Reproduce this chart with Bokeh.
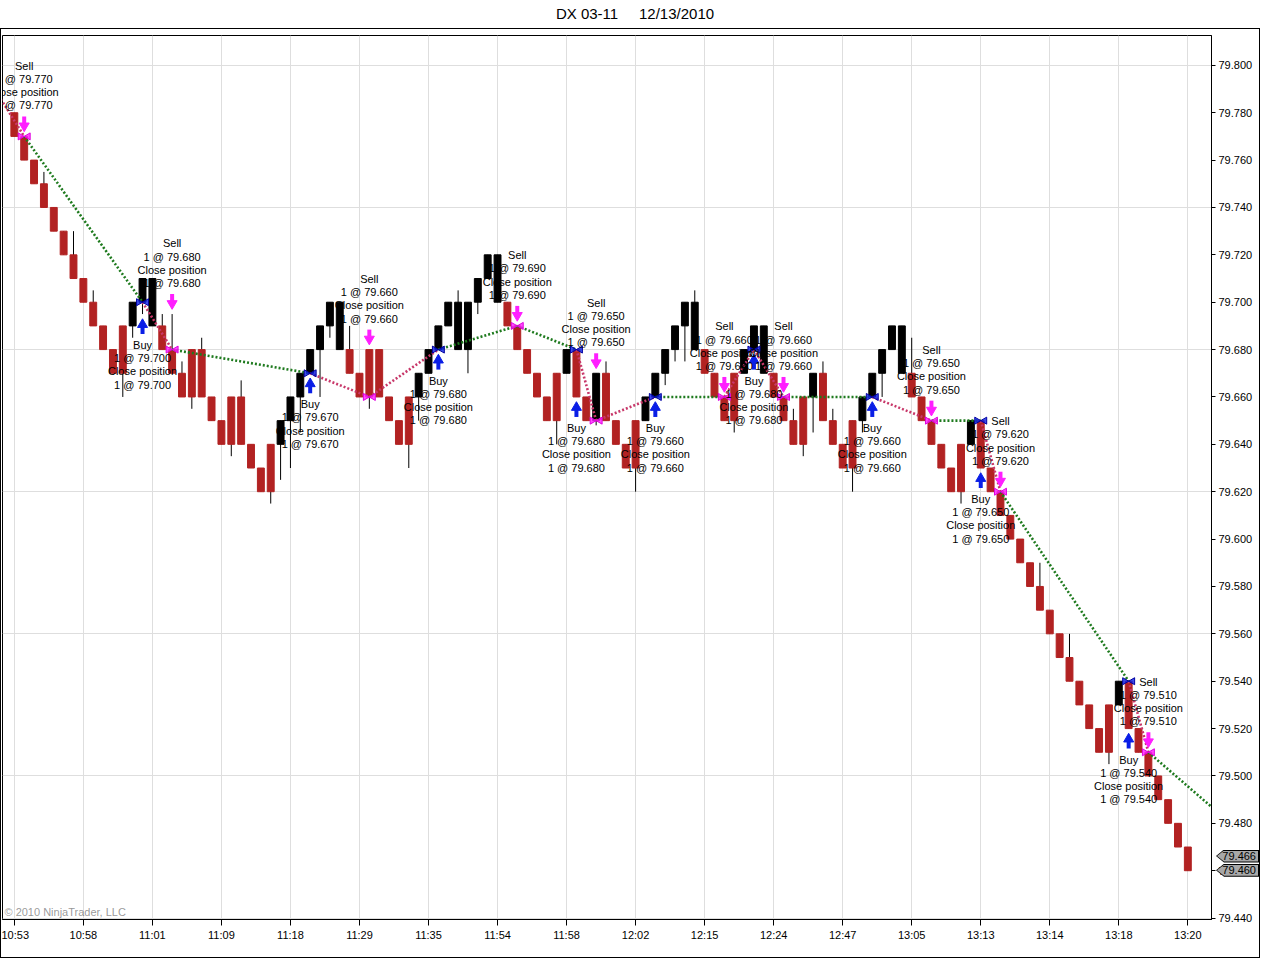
import math
from bokeh.plotting import figure
from bokeh.models import Range1d, FixedTicker, Label, Div, ColumnDataSource, NumeralTickFormatter
from bokeh.layouts import column
from bokeh.embed import file_html
from bokeh.resources import INLINE
from bokeh.core.properties import value

FONT = "Liberation Sans"

chart_title = "DX 03-11&nbsp;&nbsp;&nbsp;&nbsp;&nbsp;12/13/2010"
copyright_text = "\u00a9 2010 NinjaTrader, LLC"

# ---------------- data ----------------
time_labels = ["10:53", "10:58", "11:01", "11:09", "11:18", "11:29", "11:35", "11:54", "11:58",
               "12:02", "12:15", "12:24", "12:47", "13:05", "13:13", "13:14", "13:18", "13:20"]
bars_per_label = 7

bar_open = [79.780, 79.770, 79.760, 79.750, 79.740, 79.730, 79.720, 79.710, 79.700, 79.690,
            79.680, 79.690, 79.690, 79.700, 79.690, 79.690, 79.680, 79.670, 79.680, 79.680,
            79.660, 79.650, 79.660, 79.660, 79.640, 79.630, 79.640, 79.640, 79.650, 79.660,
            79.670, 79.680, 79.690, 79.680, 79.680, 79.670, 79.680, 79.680, 79.660, 79.650,
            79.660, 79.660, 79.670, 79.680, 79.690, 79.680, 79.680, 79.700, 79.710, 79.700,
            79.700, 79.690, 79.680, 79.670, 79.660, 79.670, 79.670, 79.680, 79.660, 79.650,
            79.670, 79.650, 79.640, 79.650, 79.650, 79.660, 79.670, 79.680, 79.690, 79.680,
            79.680, 79.670, 79.660, 79.670, 79.670, 79.680, 79.670, 79.670, 79.660, 79.650,
            79.660, 79.660, 79.670, 79.650, 79.640, 79.650, 79.650, 79.660, 79.670, 79.680,
            79.670, 79.670, 79.660, 79.650, 79.640, 79.630, 79.640, 79.640, 79.650, 79.630,
            79.620, 79.610, 79.600, 79.590, 79.580, 79.570, 79.560, 79.550, 79.540, 79.530,
            79.520, 79.530, 79.530, 79.540, 79.520, 79.510, 79.500, 79.490, 79.480, 79.470]

bar_close = [79.770, 79.760, 79.750, 79.740, 79.730, 79.720, 79.710, 79.700, 79.690, 79.680,
             79.670, 79.670, 79.700, 79.710, 79.710, 79.680, 79.670, 79.660, 79.660, 79.660,
             79.650, 79.640, 79.640, 79.640, 79.630, 79.620, 79.620, 79.650, 79.660, 79.670,
             79.680, 79.690, 79.700, 79.700, 79.670, 79.660, 79.660, 79.660, 79.650, 79.640,
             79.640, 79.670, 79.680, 79.690, 79.700, 79.700, 79.700, 79.710, 79.720, 79.720,
             79.690, 79.680, 79.670, 79.660, 79.650, 79.650, 79.680, 79.660, 79.650, 79.670,
             79.650, 79.640, 79.630, 79.630, 79.660, 79.670, 79.680, 79.690, 79.700, 79.700,
             79.670, 79.660, 79.650, 79.650, 79.680, 79.690, 79.690, 79.660, 79.650, 79.640,
             79.640, 79.670, 79.650, 79.640, 79.630, 79.630, 79.660, 79.670, 79.680, 79.690,
             79.690, 79.660, 79.650, 79.640, 79.630, 79.620, 79.620, 79.650, 79.630, 79.620,
             79.610, 79.600, 79.590, 79.580, 79.570, 79.560, 79.550, 79.540, 79.530, 79.520,
             79.510, 79.510, 79.540, 79.520, 79.510, 79.500, 79.490, 79.480, 79.470, 79.460]

bar_high = [79.780, 79.770, 79.760, 79.755, 79.740, 79.730, 79.730, 79.710, 79.705, 79.690,
            79.680, 79.690, 79.700, 79.710, 79.710, 79.695, 79.695, 79.675, 79.680, 79.685,
            79.660, 79.650, 79.660, 79.667, 79.640, 79.630, 79.640, 79.650, 79.660, 79.670,
            79.680, 79.690, 79.700, 79.700, 79.690, 79.670, 79.680, 79.680, 79.660, 79.650,
            79.660, 79.670, 79.680, 79.690, 79.700, 79.705, 79.700, 79.710, 79.720, 79.720,
            79.700, 79.690, 79.680, 79.670, 79.660, 79.670, 79.680, 79.680, 79.660, 79.670,
            79.675, 79.650, 79.640, 79.650, 79.660, 79.670, 79.680, 79.690, 79.700, 79.705,
            79.680, 79.670, 79.660, 79.670, 79.680, 79.690, 79.690, 79.670, 79.660, 79.655,
            79.660, 79.670, 79.675, 79.655, 79.640, 79.650, 79.660, 79.670, 79.680, 79.690,
            79.690, 79.685, 79.660, 79.650, 79.640, 79.630, 79.640, 79.650, 79.650, 79.630,
            79.620, 79.610, 79.600, 79.590, 79.590, 79.570, 79.560, 79.560, 79.540, 79.530,
            79.520, 79.530, 79.540, 79.540, 79.520, 79.510, 79.500, 79.490, 79.480, 79.470]

bar_low = [79.770, 79.760, 79.750, 79.740, 79.730, 79.720, 79.710, 79.700, 79.690, 79.680,
           79.670, 79.660, 79.685, 79.695, 79.690, 79.680, 79.670, 79.660, 79.655, 79.660,
           79.650, 79.640, 79.635, 79.640, 79.630, 79.620, 79.615, 79.625, 79.630, 79.645,
           79.670, 79.660, 79.685, 79.680, 79.670, 79.660, 79.655, 79.660, 79.650, 79.640,
           79.630, 79.650, 79.670, 79.680, 79.690, 79.680, 79.670, 79.695, 79.710, 79.700,
           79.690, 79.680, 79.670, 79.660, 79.650, 79.640, 79.670, 79.660, 79.650, 79.648,
           79.650, 79.640, 79.630, 79.620, 79.650, 79.660, 79.665, 79.675, 79.675, 79.680,
           79.670, 79.660, 79.650, 79.645, 79.670, 79.680, 79.670, 79.660, 79.650, 79.640,
           79.635, 79.645, 79.650, 79.640, 79.630, 79.620, 79.645, 79.660, 79.660, 79.680,
           79.670, 79.660, 79.650, 79.640, 79.630, 79.620, 79.615, 79.640, 79.630, 79.620,
           79.610, 79.600, 79.590, 79.580, 79.570, 79.560, 79.550, 79.540, 79.530, 79.520,
           79.510, 79.505, 79.530, 79.520, 79.510, 79.500, 79.490, 79.480, 79.470, 79.460]

# strategy executions (bar index, side, fill price)
signal_bar = [1, 13, 16, 30, 36, 43, 51, 57, 59, 65, 72, 75, 78, 87, 93, 98, 100, 113, 115]
signal_side = ["Sell", "Buy", "Sell", "Buy", "Sell", "Buy", "Sell", "Buy", "Sell", "Buy",
               "Sell", "Buy", "Sell", "Buy", "Sell", "Buy", "Sell", "Buy", "Sell"]
signal_price = [79.770, 79.700, 79.680, 79.670, 79.660, 79.680, 79.690, 79.680, 79.650, 79.660,
                79.660, 79.680, 79.660, 79.660, 79.650, 79.650, 79.620, 79.540, 79.510]

# position opened before the visible window, and the still-open position's trail
prior_entry_bar, prior_entry_side, prior_entry_price = -2, "Buy", 79.790
open_trail_bar, open_trail_price = 125, 79.474

last_prices = [79.466, 79.460]

price_ticks = [79.440, 79.460, 79.480, 79.500, 79.520, 79.540, 79.560, 79.580, 79.600, 79.620,
               79.640, 79.660, 79.680, 79.700, 79.720, 79.740, 79.760, 79.780, 79.800]
grid_prices = [79.440, 79.500, 79.560, 79.620, 79.680, 79.740, 79.800]

# ---------------- styles ----------------
UP_COLOR = "black"
DOWN_COLOR = "#B22222"
WIN_COLOR = "#1E7A1E"
LOSS_COLOR = "#C8386A"
BUY_COLOR = "#0A1EE6"
SELL_COLOR = "#FF1EFF"

W, H = 1260, 930
TITLE_H = 18
TOP, BOTTOM, LEFT, RIGHT = 6, 40, 1, 50
FRAME_H = H - TOP - BOTTOM
FRAME_W = W - LEFT - RIGHT
Y0, Y1 = 79.4394, 79.8126
X0, X1 = -1.2, 121.4
ppx = (Y1 - Y0) / FRAME_H  # price per pixel

p = figure(width=W, height=H, output_backend="svg", toolbar_location=None,
           x_range=Range1d(X0, X1), y_range=Range1d(Y0, Y1),
           y_axis_location="right", min_border_left=LEFT, min_border_top=TOP,
           min_border_bottom=BOTTOM, min_border_right=RIGHT,
           styles={"border": "1px solid black"})
p.outline_line_color = "black"
p.outline_line_width = 1
p.background_fill_color = "white"
p.border_fill_color = "white"

# axes
p.xaxis.ticker = FixedTicker(ticks=[i * bars_per_label for i in range(len(time_labels))])
p.xaxis.major_label_overrides = {i * bars_per_label: t for i, t in enumerate(time_labels)}
p.yaxis.ticker = FixedTicker(ticks=price_ticks)
p.yaxis.formatter = NumeralTickFormatter(format="0.000")
for ax in (p.xaxis, p.yaxis):
    ax.axis_line_color = "black"
    ax.major_tick_line_color = "black"
    ax.major_tick_in = 0
    ax.minor_tick_out = 0
    ax.minor_tick_in = 0
    ax.major_label_text_font = FONT
    ax.major_label_text_font_size = "11px"
    ax.major_label_text_color = "black"
p.xaxis.major_tick_out = 6
p.xaxis.major_label_standoff = 3
p.yaxis.major_tick_out = 4
p.yaxis.major_label_standoff = 3

p.xgrid.grid_line_color = "#DEDEDE"
p.ygrid.grid_line_color = "#DEDEDE"
p.ygrid.ticker = FixedTicker(ticks=grid_prices)

# copyright
p.add_layout(Label(x=X0 + 0.2, y=Y0 + 2 * ppx, text=copyright_text, text_font=FONT,
                   text_font_size="11px", text_color="#303030", text_alpha=0.5,
                   text_baseline="bottom"))

# candles
n = len(bar_open)
xs = list(range(n))
src = ColumnDataSource(dict(
    x=xs,
    top=[max(o, c) for o, c in zip(bar_open, bar_close)],
    bottom=[min(o, c) for o, c in zip(bar_open, bar_close)],
    high=bar_high, low=bar_low,
    color=[UP_COLOR if c > o else DOWN_COLOR for o, c in zip(bar_open, bar_close)],
))
p.segment(x0="x", y0="low", x1="x", y1="high", source=src, line_color="black", line_width=1)
p.vbar(x="x", width=0.7, top="top", bottom="bottom", source=src,
       fill_color="color", line_color="color", line_width=1)

# trade connection lines
pts_bar = [prior_entry_bar] + signal_bar + [open_trail_bar]
pts_price = [prior_entry_price] + signal_price + [open_trail_price]
pts_side = [prior_entry_side] + signal_side
seg_x0, seg_y0, seg_x1, seg_y1, seg_c = [], [], [], [], []
for i in range(len(pts_bar) - 1):
    b0, p0, b1, p1 = pts_bar[i], pts_price[i], pts_bar[i + 1], pts_price[i + 1]
    side = pts_side[i]
    win = (p1 >= p0) if side == "Buy" else (p1 <= p0)
    seg_x0.append(b0); seg_y0.append(p0); seg_x1.append(b1); seg_y1.append(p1)
    seg_c.append(WIN_COLOR if win else LOSS_COLOR)
p.segment(x0=seg_x0, y0=seg_y0, x1=seg_x1, y1=seg_y1, line_color=seg_c,
          line_width=2.6, line_dash="2 2")

# execution bowties
for side, col, edge in (("Buy", BUY_COLOR, "#0000A0"), ("Sell", SELL_COLOR, "#E000E0")):
    bx = [b for b, s in zip(signal_bar, signal_side) if s == side]
    by = [pr for pr, s in zip(signal_price, signal_side) if s == side]
    p.scatter(x=[b - 0.4 for b in bx], y=by, marker="triangle", angle=-math.pi / 2,
              size=7, fill_color=col, line_color=edge, fill_alpha=0.8)
    p.scatter(x=[b + 0.4 for b in bx], y=by, marker="triangle", angle=math.pi / 2,
              size=7, fill_color=col, line_color=edge, fill_alpha=0.8)

# arrows and texts
buy_x, buy_low, buy_txt = [], [], []
sell_x, sell_high, sell_txt = [], [], []
for b, s, pr in zip(signal_bar, signal_side, signal_price):
    txt = f"{s}\n1 @ {pr:.3f}\nClose position\n1 @ {pr:.3f}"
    if s == "Buy":
        buy_x.append(b); buy_low.append(bar_low[b]); buy_txt.append(txt)
    else:
        sell_x.append(b); sell_high.append(bar_high[b]); sell_txt.append(txt)

p.segment(x0=buy_x, x1=buy_x, y0=[l - 13 * ppx for l in buy_low], y1=[l - 20 * ppx for l in buy_low],
          line_color=BUY_COLOR, line_width=4, line_cap="butt")
p.scatter(x=buy_x, y=[l - 10.5 * ppx for l in buy_low], marker="triangle", size=10,
          fill_color=BUY_COLOR, line_color=BUY_COLOR)
p.segment(x0=sell_x, x1=sell_x, y0=[h + 13 * ppx for h in sell_high], y1=[h + 20 * ppx for h in sell_high],
          line_color=SELL_COLOR, line_width=4, line_cap="butt")
p.scatter(x=sell_x, y=[h + 10.5 * ppx for h in sell_high], marker="inverted_triangle", size=10,
          fill_color=SELL_COLOR, line_color=SELL_COLOR)

p.text(x=buy_x, y=[l - 25 * ppx for l in buy_low], text=buy_txt, text_align="center",
       text_baseline="top", text_font=value(FONT), text_font_size="11px",
       text_line_height=1.1, text_color="black")
p.text(x=sell_x, y=[h + 25 * ppx for h in sell_high], text=sell_txt, text_align="center",
       text_baseline="bottom", text_font=value(FONT), text_font_size="11px",
       text_line_height=1.1, text_color="black")

# last price badges drawn over the price axis (HTML overlay positioned from the frame geometry)
BADGE_W, BADGE_H = 43, 13
BADGE_NUDGE = 5
frame_top = TITLE_H + 1 + TOP
frame_right = 1 + LEFT + FRAME_W
badge_parts = []
first_top = frame_top + (Y1 - last_prices[0]) / ppx - BADGE_H / 2 + BADGE_NUDGE
for lp in last_prices:
    top = frame_top + (Y1 - lp) / ppx - BADGE_H / 2 + BADGE_NUDGE - first_top
    badge_parts.append(
        f'<div style="position:absolute;left:0;top:{top:.1f}px;width:{BADGE_W}px;height:{BADGE_H}px;'
        f'background:black;clip-path:polygon(8px 0,100% 0,100% 100%,8px 100%,0 50%);">'
        f'<div style="position:absolute;left:1px;top:1px;width:{BADGE_W - 2}px;height:{BADGE_H - 2}px;'
        f'background:#A8A8A8;clip-path:polygon(7px 0,100% 0,100% 100%,7px 100%,0 50%);'
        f'font-family:\'{FONT}\';font-size:11px;line-height:11px;text-align:right;'
        f'padding-right:2px;box-sizing:border-box;color:black;">{lp:.3f}</div></div>')
badge_div = Div(text="".join(badge_parts), width=BADGE_W + 2, height=30,
                styles={"position": "absolute", "left": f"{frame_right}px",
                        "top": f"{first_top:.1f}px"})

title_div = Div(text=chart_title, width=W, height=TITLE_H,
                styles={"text-align": "center", "font-family": FONT, "font-size": "15px",
                        "line-height": "18px", "color": "black"})

layout = column(title_div, p, badge_div, styles={"position": "relative"})
open("out.html", "w").write(file_html(layout, INLINE))
